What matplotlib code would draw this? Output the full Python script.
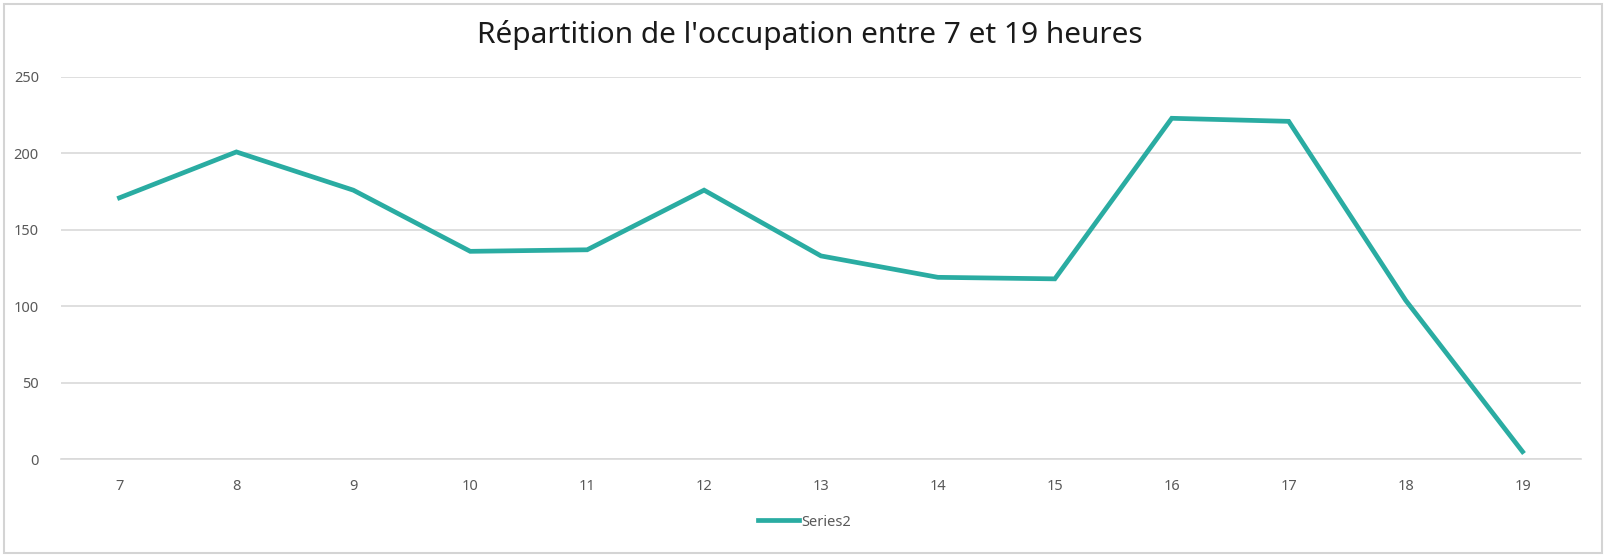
import matplotlib
matplotlib.use('Agg')
import matplotlib.pyplot as plt
from matplotlib.patches import Rectangle

# hours of the day and occupation values
hours = ['7', '8', '9', '10', '11', '12', '13', '14', '15', '16', '17', '18', '19']
occupation = [171, 201, 176, 136, 137, 176, 133, 119, 118, 223, 221, 104, 5]
y_ticks = [0, 50, 100, 150, 200, 250]

plt.rcParams['font.family'] = ['Noto Sans', 'DejaVu Sans']

fig = plt.figure(figsize=(16.09, 5.56), dpi=100)
fig.patch.set_facecolor('white')

# thin grey frame of the chart area
fig.patches.append(Rectangle((4 / 1609, 3 / 556), 1598 / 1609, 549 / 556,
                             transform=fig.transFigure, fill=False,
                             edgecolor='#d4d4d4', linewidth=1.5))

ax = fig.add_axes([61 / 1609, 1 - 459.3 / 556, 1520 / 1609, 382.3 / 556])
x = list(range(len(hours)))
line, = ax.plot(x, occupation, color='#2aaca2', linewidth=3.4,
                solid_joinstyle='miter', label='Series2')

ax.set_xlim(-0.5, len(hours) - 0.5)
ax.set_ylim(0, 250)
ax.set_xticks(x)
ax.set_xticklabels(hours)
ax.set_yticks(y_ticks)
ax.grid(axis='y', color='#d9d9d9', linewidth=1.2)
ax.set_axisbelow(True)
for s in ['top', 'right', 'left']:
    ax.spines[s].set_visible(False)
ax.spines['bottom'].set_color('#d9d9d9')
ax.spines['bottom'].set_linewidth(1.2)
ax.tick_params(axis='both', length=0, labelsize=10.5, colors='#595959')
ax.tick_params(axis='x', pad=14)
ax.tick_params(axis='y', pad=16)

fig.text(0.503, 0.937, "Répartition de l'occupation entre 7 et 19 heures",
         ha='center', va='center', fontsize=21.5, color='#1a1a1a')

fig.legend(handles=[line], loc='center', bbox_to_anchor=(0.5, 0.061),
           frameon=False, fontsize=10.5, handlelength=2.8,
           handletextpad=0.15, labelcolor='#595959')

fig.savefig('out.png', dpi=100)
